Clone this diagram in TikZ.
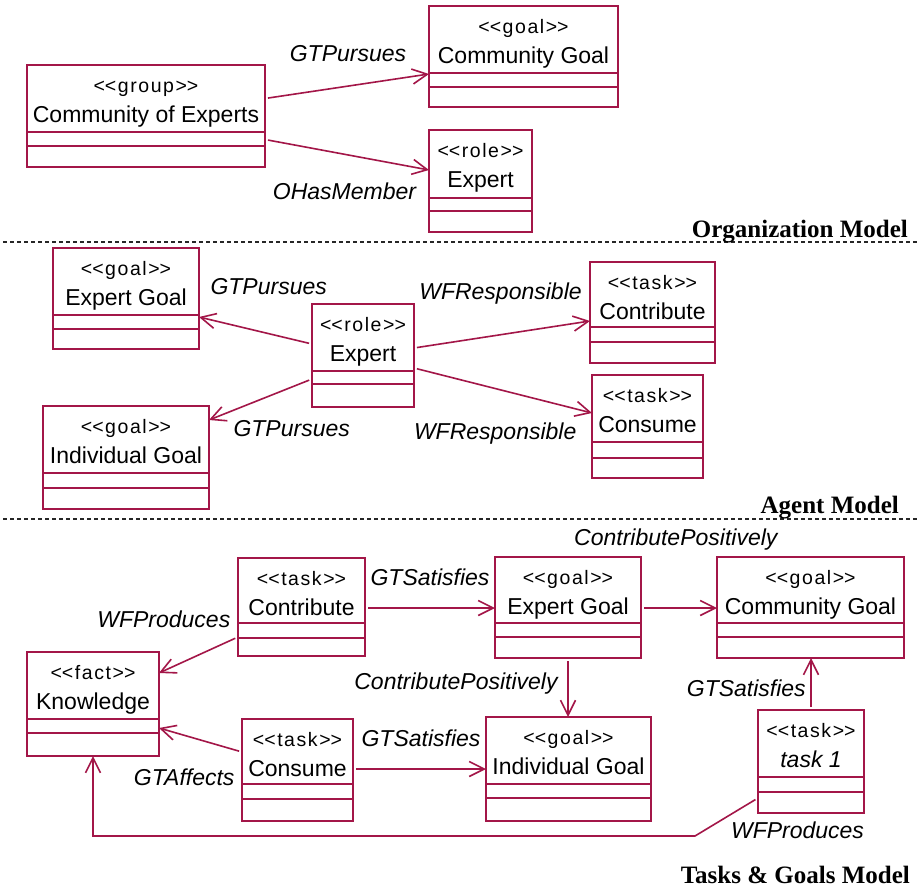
\documentclass[tikz,border=0pt]{standalone}
\usepackage{fontspec}
\setmainfont{Liberation Sans}
\newfontfamily\modelfont{Liberation Serif}
\usetikzlibrary{arrows.meta}
\definecolor{umlred}{RGB}{163,22,72}

\tikzset{
  umlbox/.style={draw=umlred, line width=2pt, rectangle, inner sep=0pt, outer sep=0pt, anchor=north west},
  compart/.style={draw=umlred, line width=2pt},
  stereo/.style={anchor=base, inner sep=0pt, font=\fontsize{19.5}{22}\selectfont\addfontfeatures{LetterSpace=8}},
  cname/.style={anchor=base, inner sep=0pt, font=\fontsize{23}{26}\selectfont},
  rel/.style={draw=umlred, line width=1.6pt, shorten <=3pt,
    -{Straight Barb[length=15pt,width=15pt,line width=1.6pt]}},
  rlabel/.style={anchor=base, inner sep=0pt, font=\fontsize{23}{26}\selectfont\itshape},
  modellabel/.style={anchor=base east, inner sep=0pt, font=\modelfont\bfseries\fontsize{25}{28}\selectfont},
  divider/.style={draw=black!85, line width=1.2pt, dash pattern=on 4pt off 3pt},
}

% stereotype text in double angle brackets (kerns keep << and >> as separate signs)
\newcommand{\stype}[1]{<\kern0pt<#1>\kern0pt>}

% UML class box: name, left, top, right, bottom, separator 1, separator 2, stereotype, class name
\newcommand{\umlclass}[9]{%
  \node[umlbox, minimum width=#4-#2, minimum height=#5-#3] (#1) at (#2,#3) {};
  \draw[compart] (#1.west |- 0,#6) -- (#1.east |- 0,#6);
  \draw[compart] (#1.west |- 0,#7) -- (#1.east |- 0,#7);
  \node[stereo] (#1-st) at ({(#2+#4)/2},{#3+27}) {\stype{#8}};
  \node[cname] (#1-nm) at ({(#2+#4)/2},{#3+57.5}) {#9};
}

\begin{document}
\begin{tikzpicture}[x=1pt, y=-1pt]
\useasboundingbox (0,0) rectangle (919,889);
\fill[white] (0,0) rectangle (919,889);

% ---------- Organization model ----------
\umlclass{ce}{27}{65}{265}{167}{132}{146}{group}{Community of Experts}
\umlclass{cga}{429}{6}{618}{107}{73}{87}{goal}{Community Goal}
\umlclass{exa}{429}{130}{532}{232}{198}{211}{role}{Expert}

\draw[rel] (ce.east |- 0,98.5) -- (cga.west |- 0,74);
\draw[rel] (ce.east |- 0,139.5) -- (exa.west |- 0,170);
\node[rlabel] (l1) at (348,61) {GTPursues};
\node[rlabel] (l2) at (344.5,199) {OHasMember};

\draw[divider] (3,242) -- (919,242);
\node[modellabel] (m1) at (908,237) {Organization Model};

% ---------- Agent model ----------
\umlclass{egb}{53}{248}{199}{349}{315}{329}{goal}{Expert Goal}
\umlclass{igb}{43}{406}{209}{509}{473}{488}{goal}{Individual Goal}
\umlclass{exb}{312}{304}{414}{407}{371}{384}{role}{Expert}
\umlclass{cob}{590}{262}{715}{363}{327}{342}{task}{Contribute}
\umlclass{csb}{592}{375}{703}{478}{442}{458}{task}{Consume}

\draw[rel] (exb.west |- 0,344) -- (egb.east |- 0,317);
\draw[rel] (exb.west |- 0,379) -- (igb.east |- 0,420);
\draw[rel] (exb.east |- 0,348) -- (cob.west |- 0,321);
\draw[rel] (exb.east |- 0,368) -- (csb.west |- 0,413);
\node[rlabel] (l3) at (268.7,294.5) {GTPursues};
\node[rlabel] (l4) at (291.7,436) {GTPursues};
\node[rlabel] (l5) at (500.5,299.5) {WFResponsible};
\node[rlabel] (l6) at (495.2,439.5) {WFResponsible};

\draw[divider] (3,519) -- (919,519);
\node[modellabel] (m2) at (899,513) {Agent Model};

% ---------- Tasks & goals model ----------
\umlclass{coc}{238}{558}{365}{656}{623}{638}{task}{Contribute}
\umlclass{kn}{27}{652}{159}{756}{719}{733}{fact}{Knowledge}
\umlclass{csc}{242}{719}{353}{821}{784}{799}{task}{Consume}
\umlclass{egc}{495}{557}{641}{658}{623}{637}{goal}{Expert Goal}
\umlclass{cgc}{717}{557}{904}{658}{623}{637}{goal}{Community Goal}
\umlclass{igc}{486}{717}{651}{821}{784}{798}{goal}{Individual Goal}
\umlclass{tk}{758}{710}{864}{813}{777}{792}{task}{\itshape task 1}

\draw[rel] (coc.west |- 0,637) -- (kn.east |- 0,673);
\draw[rel] (csc.west |- 0,752) -- (kn.east |- 0,728);
\coordinate (wfbend) at (695,836);
\draw[rel] (tk.west |- 0,798) -- (wfbend) -| (kn.south);
\draw[rel] (coc.east |- 0,608) -- (egc.west |- 0,608);
\draw[rel] (csc.east |- 0,769) -- (igc.west |- 0,769);
\draw[rel] (egc.east |- 0,608) -- (cgc.west |- 0,608);
\draw[rel] (egc.south) -- (egc.south |- igc.north);
\draw[rel] (tk.north) -- (tk.north |- cgc.south);

\node[rlabel] (l7) at (163.8,627) {WFProduces};
\node[rlabel] (l8) at (184.2,785) {GTAffects};
\node[rlabel] (l9) at (797.5,838) {WFProduces};
\node[rlabel] (l10) at (430,585) {GTSatisfies};
\node[rlabel] (l11) at (421,746.5) {GTSatisfies};
\node[rlabel] (l12) at (675.8,545) {ContributePositively};
\node[rlabel] (l13) at (456,689.5) {ContributePositively};
\node[rlabel] (l14) at (746.3,696.5) {GTSatisfies};

\node[modellabel] (m3) at (910,883) {Tasks \& Goals Model};
\end{tikzpicture}
\end{document}
